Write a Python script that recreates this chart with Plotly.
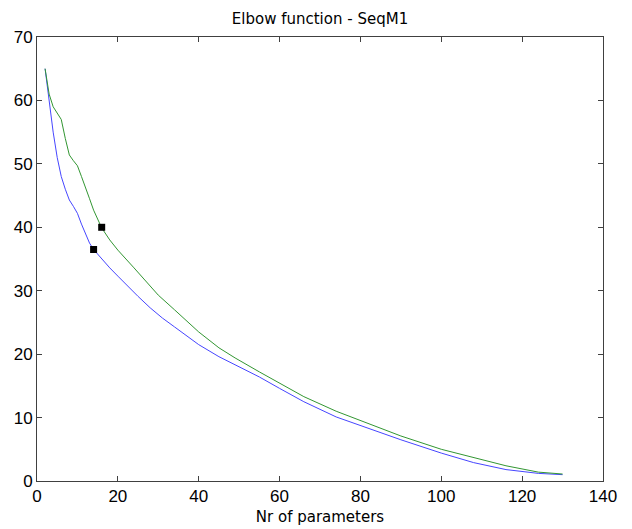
import plotly.graph_objects as go

blue_x = [2, 3, 4, 5, 6, 7, 8, 9, 10, 11, 12, 13, 14, 16, 18, 20, 22, 25, 28, 31, 34, 40, 45, 50, 55, 60, 66, 74, 82, 90, 100, 108, 116, 124, 130]
blue_y = [65, 59.6, 55, 51, 48, 46, 44.3, 43.3, 42.2, 40.5, 39, 37.5, 36.5, 35, 33.6, 32.3, 31.0, 29.1, 27.3, 25.7, 24.3, 21.5, 19.6, 18, 16.4, 14.6, 12.5, 10.1, 8.3, 6.5, 4.4, 2.9, 1.8, 1.2, 1.0]

green_x = [2, 3, 4, 5, 6, 7, 8, 9, 10, 11, 12, 13, 14, 15, 16, 18, 20, 24, 27, 30, 34, 40, 45, 49, 55, 60, 66, 74, 82, 90, 100, 108, 116, 124, 130]
green_y = [65, 61, 59, 58, 57, 54, 51.4, 50.5, 49.7, 48, 46.4, 44.5, 42.7, 41.3, 39.9, 38, 36.4, 33.6, 31.4, 29.3, 27, 23.5, 21, 19.4, 17.2, 15.4, 13.3, 11, 9.1, 7.1, 5, 3.7, 2.4, 1.4, 1.1]

marker_x = [14, 16]
marker_y = [36.5, 40]

x_ticks = [0, 20, 40, 60, 80, 100, 120, 140]
y_ticks = [0, 10, 20, 30, 40, 50, 60, 70]

fig = go.Figure()
fig.add_trace(go.Scatter(x=blue_x, y=blue_y, mode="lines",
                         line=dict(color="rgb(70,70,255)", width=1), showlegend=False))
fig.add_trace(go.Scatter(x=green_x, y=green_y, mode="lines",
                         line=dict(color="rgb(50,150,50)", width=1), showlegend=False))
fig.add_trace(go.Scatter(x=marker_x, y=marker_y, mode="markers",
                         marker=dict(symbol="square", color="black", size=7),
                         showlegend=False))

tick_font = dict(family="Liberation Sans, Arial, sans-serif", size=17, color="black")
title_font = dict(family="DejaVu Sans, sans-serif", size=15, color="black")
axis_common = dict(showgrid=False, zeroline=False, showline=True, linecolor="#404040",
                   linewidth=1, mirror="allticks", ticks="inside", ticklen=5,
                   tickcolor="#404040", tickfont=tick_font, automargin=False)

fig.update_layout(
    width=632, height=529,
    margin=dict(l=37, r=29, t=37, b=48, autoexpand=False),
    paper_bgcolor="white", plot_bgcolor="white",
    title=dict(text="Elbow function - SeqM1", x=(37 + 603) / 2 / 632, xanchor="center",
               y=1 - 19 / 529, yanchor="middle", font=title_font),
    xaxis=dict(range=[0, 140], tickvals=x_ticks, ticktext=[str(v) for v in x_ticks],
               title=dict(text="Nr of parameters", font=title_font, standoff=6), **axis_common),
    yaxis=dict(range=[0, 70], tickvals=y_ticks, ticktext=[str(v) for v in y_ticks],
               **axis_common),
)

fig.write_html("out.html")
